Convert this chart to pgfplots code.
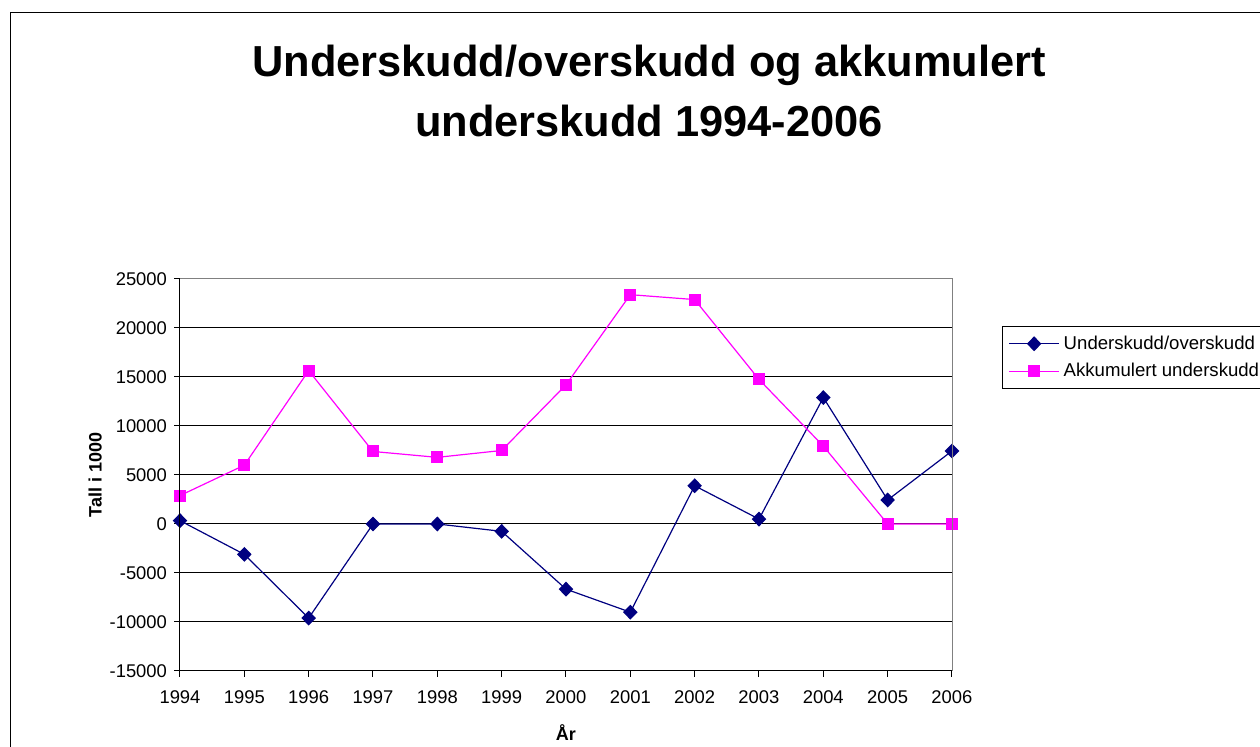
\documentclass[border=0pt]{standalone}
\usepackage{pgfplots}
\pgfplotsset{compat=1.18}
\usepackage{fontspec}
\setmainfont{Liberation Sans}
\definecolor{navyline}{HTML}{000080}
\definecolor{pinkline}{HTML}{FF00FF}

\begin{document}
\begin{tikzpicture}
% 1 px of the reference = 0.5pt
\path[use as bounding box] (0,0) rectangle (630pt,373.5pt);
\draw[black, line width=0.5pt] (5pt,-20pt) -- (5pt,367pt) -- (660pt,367pt);

\node[anchor=base, font=\fontsize{21.7}{26}\selectfont\bfseries] at (324.5pt,335pt) {Underskudd/overskudd og akkumulert};
\node[anchor=base, font=\fontsize{21.7}{26}\selectfont\bfseries] at (324.5pt,305pt) {underskudd 1994-2006};

\begin{axis}[
    at={(90pt,38pt)}, anchor=south west,
    scale only axis,
    width=386pt, height=196pt,
    xmin=1994, xmax=2006,
    ymin=-15000, ymax=25000,
    scaled y ticks=false,
    xtick={1994,...,2006},
    xticklabels={1994,1995,1996,1997,1998,1999,2000,2001,2002,2003,2004,2005,2006},
    ytick={-15000,-10000,...,25000},
    yticklabels={-15000,-10000,-5000,0,5000,10000,15000,20000,25000},
    tick pos=left,
    tick align=outside,
    major tick length=3pt,
    tick style={black, line width=0.5pt},
    ymajorgrids=true,
    grid style={black, line width=0.5pt},
    axis line style={draw=none},
    ticklabel style={font=\fontsize{9.2}{10}\selectfont},
    xticklabel style={yshift=-3.5pt},
    xlabel={År},
    ylabel={Tall i 1000},
    label style={font=\fontsize{9}{10}\selectfont\bfseries},
    xlabel style={at={(axis description cs:0.5,-0.158)}, anchor=center},
    ylabel style={at={(axis description cs:-0.110,0.5)}, anchor=center},
    legend style={at={(axis description cs:1.0648,0.880)}, anchor=north west,
        font=\fontsize{9.3}{10}\selectfont, draw=black, line width=0.5pt,
        row sep=1.5pt, inner ysep=2.5pt},
    legend cell align=left,
    legend image code/.code={\draw[mark repeat=2, mark phase=2] plot coordinates {(0pt,0pt) (12.5pt,0pt) (25pt,0pt)};},
    after end axis/.code={
        \draw[gray, line width=0.5pt] (rel axis cs:0,1) -- (rel axis cs:1,1) -- (rel axis cs:1,0);
        \draw[black, line width=0.5pt] (rel axis cs:0,1) -- (rel axis cs:0,0) -- (rel axis cs:1,0);
    },
]
\addplot[navyline, line width=0.6pt, mark=diamond*, mark size=3.3pt,
    mark options={xscale=1.3, fill=navyline, solid}] coordinates {
    (1994,340) (1995,-3100) (1996,-9600) (1997,0) (1998,0) (1999,-750)
    (2000,-6650) (2001,-9000) (2002,3900) (2003,500) (2004,12900)
    (2005,2450) (2006,7450)
};
\addplot[pinkline, line width=0.6pt, mark=square*, mark size=2.7pt,
    mark options={fill=pinkline, solid}] coordinates {
    (1994,2900) (1995,6000) (1996,15650) (1997,7400) (1998,6800) (1999,7500)
    (2000,14200) (2001,23400) (2002,22900) (2003,14750) (2004,7950)
    (2005,0) (2006,0)
};
\legend{Underskudd/overskudd, Akkumulert underskudd}
\end{axis}
\end{tikzpicture}
\end{document}
